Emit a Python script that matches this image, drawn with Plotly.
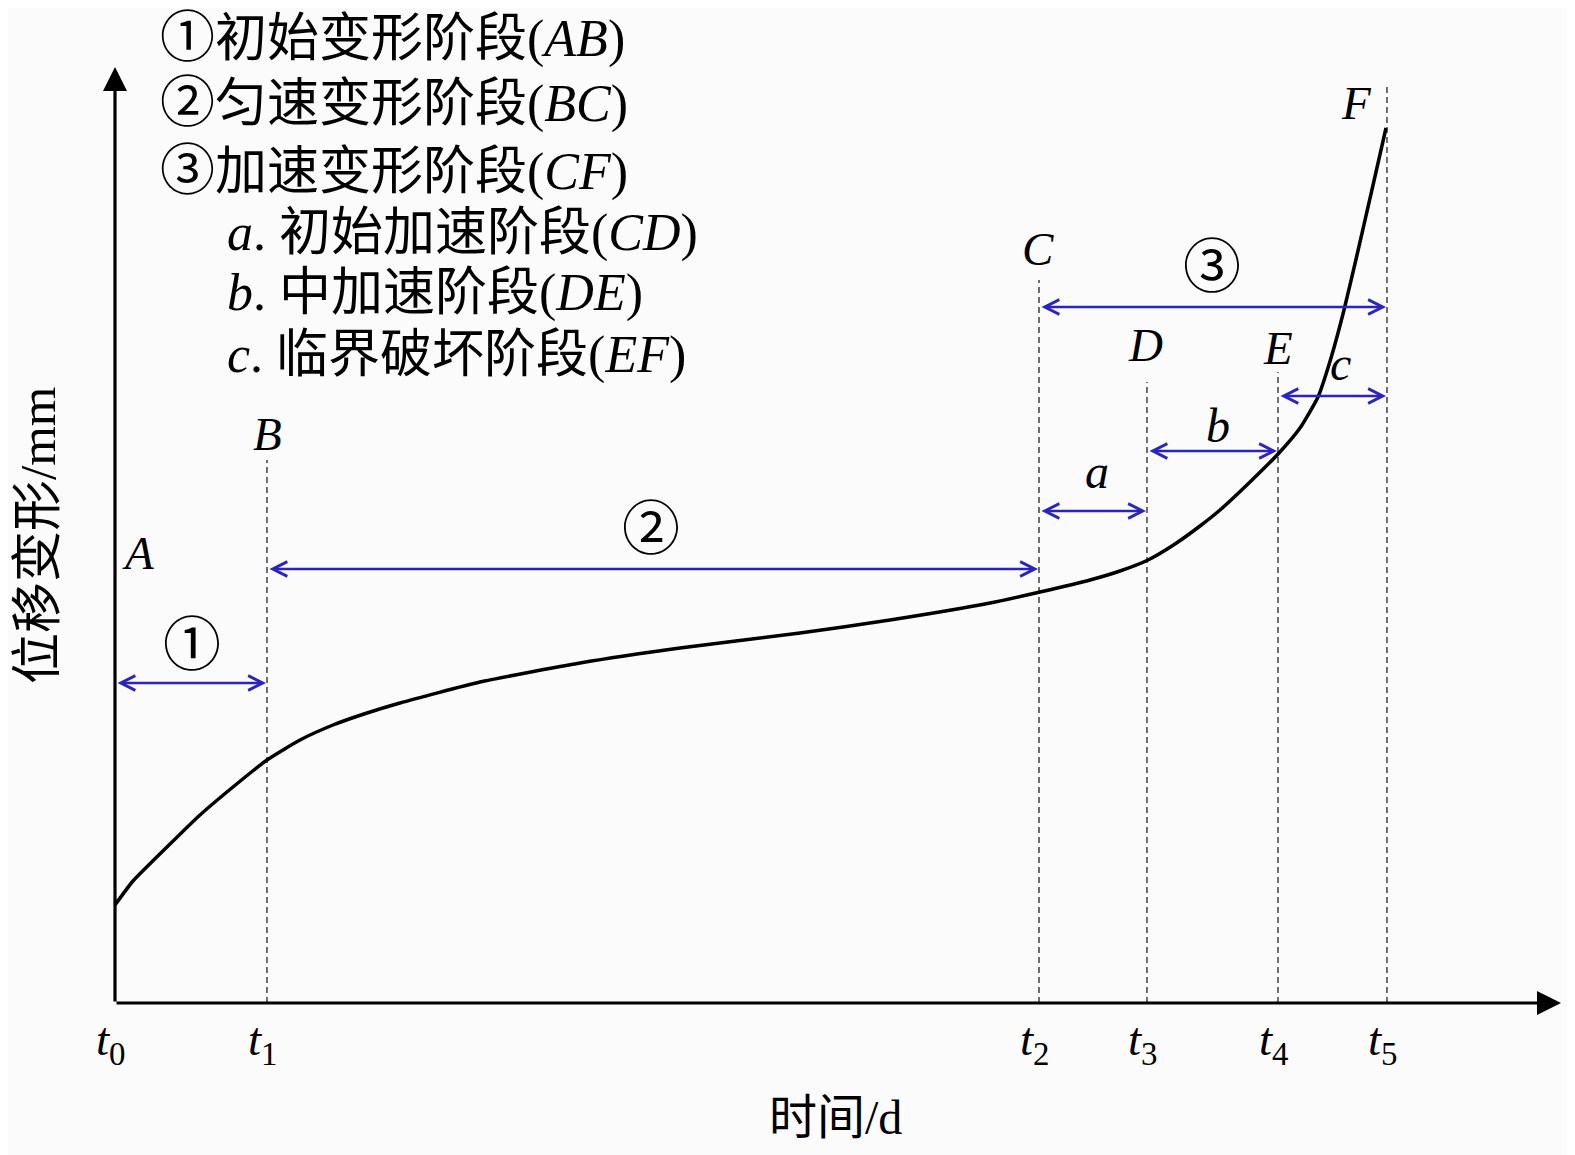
import plotly.graph_objects as go

# ── data (time in d, displacement in mm) ──
curve_t = [0, 1.8, 5.2, 8.5, 11.8, 15.2, 18.5, 21.8, 25.2, 28.5, 36.5, 46.5, 56.5,
           68.5, 77.5, 87.5, 92.5, 97.5, 100.5, 103.3, 106.0, 108.5, 110.5, 113.5,
           116.4, 118.5, 120.3, 121.6, 122.9, 124.2, 125.6, 127.1]
curve_d = [9.8, 12.2, 15.6, 18.8, 21.6, 24.3, 26.3, 27.8, 29.0, 30.0, 32.1, 34.0, 35.5,
           37.0, 38.3, 40.0, 41.1, 42.3, 43.2, 44.3, 45.9, 47.7, 49.3, 52.1,
           55.0, 57.5, 60.6, 64.5, 69.3, 74.8, 80.9, 87.5]

stage_t = [0, 15.2, 92.4, 103.2, 116.3, 127.2]          # t0 .. t5
stage_names = ["A", "B", "C", "D", "E", "F"]
guide_top = [None, 54.3, 72.3, 62.1, 63.1, 91.8]          # top of dashed guides

# spans between stage times, with their heights and labels
span_from = [0, 1, 2, 3, 4, 2]
span_to = [1, 2, 3, 4, 5, 5]
span_y = [32.0, 43.4, 49.2, 55.2, 60.7, 69.6]
span_text = ["①", "②", "<i>a</i>", "<i>b</i>", "<i>c</i>", "③"]

legend_marks = ["①", "②", "③", "<i>a</i>. ", "<i>b</i>. ", "<i>c</i>. "]
legend_lines = [
    "初始变形阶段(<i>AB</i>)",
    "匀速变形阶段(<i>BC</i>)",
    "加速变形阶段(<i>CF</i>)",
    "初始加速阶段(<i>CD</i>)",
    "中加速阶段(<i>DE</i>)",
    "临界破坏阶段(<i>EF</i>)",
]
legend_y = [96.6, 90.1, 83.3, 77.0, 71.0, 64.8]
legend_indent = [0, 0, 0, 1, 1, 1]

# page has an 8 px body margin, ranges are shifted to compensate
X_RANGE = [-10.7, 146.8]
Y_RANGE = [-16.0, 99.5]
BLUE = "#2a22c4"
FONT = "Liberation Serif, Noto Sans CJK SC, serif"

fig = go.Figure()

# dashed guides at t1..t5
gx, gy = [], []
for t, top in zip(stage_t[1:], guide_top[1:]):
    gx += [t, t, None]
    gy += [0, top, None]
fig.add_trace(go.Scatter(x=gx, y=gy, mode="lines",
                         line=dict(color="#222222", width=1.3, dash="6px,4px"),
                         hoverinfo="skip", showlegend=False))

# creep curve
fig.add_trace(go.Scatter(x=curve_t, y=curve_d, mode="lines",
                         line=dict(color="black", width=3.5, shape="spline", smoothing=0.5),
                         hoverinfo="skip", showlegend=False))

ann = []

# axes with arrowheads
ann.append(dict(x=144.6, y=0, ax=0, ay=0, xref="x", yref="y", axref="x", ayref="y",
                showarrow=True, arrowhead=2, arrowsize=1.5, arrowwidth=3.2,
                arrowcolor="black", text=""))
ann.append(dict(x=0, y=93.6, ax=0, ay=0, xref="x", yref="y", axref="x", ayref="y",
                showarrow=True, arrowhead=2, arrowsize=1.5, arrowwidth=3.2,
                arrowcolor="black", text=""))

# double-headed span arrows
for i0, i1, yv in zip(span_from, span_to, span_y):
    ann.append(dict(x=stage_t[i1], y=yv, ax=stage_t[i0], ay=yv,
                    xref="x", yref="y", axref="x", ayref="y",
                    showarrow=True, arrowhead=5, startarrowhead=5, arrowside="end+start",
                    arrowsize=1.2, startarrowsize=1.2, arrowwidth=2.4,
                    arrowcolor=BLUE, standoff=1, startstandoff=1, text=""))

# span labels
span_label_x = [7.7, 53.6, 98.2, 110.3, 122.5, 109.7]
span_label_y = [35.8, 47.4, 53.2, 57.8, 64.0, 73.6]
for xv, yv, s in zip(span_label_x, span_label_y, span_text):
    size = 58 if "<i>" not in s else 48
    ann.append(dict(x=xv, y=yv, xref="x", yref="y", text=s, showarrow=False,
                    font=dict(family=FONT, size=size, color="black")))

# point letters
point_x = [2.3, 15.2, 92.3, 103.0, 116.3, 124.1]
point_y = [45.0, 56.9, 75.4, 65.8, 65.5, 90.0]
for xv, yv, s in zip(point_x, point_y, stage_names):
    ann.append(dict(x=xv, y=yv, xref="x", yref="y", text=f"<i>{s}</i>",
                    showarrow=False, font=dict(family=FONT, size=47, color="black")))

# t tick labels
for k, t in enumerate(stage_t):
    ann.append(dict(x=t - 0.4, y=-3.9, xref="x", yref="y",
                    text=f"<i>t</i><sub>{k}</sub>", showarrow=False,
                    font=dict(family=FONT, size=47, color="black")))

# legend block
for m, s, yv, ind in zip(legend_marks, legend_lines, legend_y, legend_indent):
    if ind:
        text = m + s
        xv = 11.0
    else:
        text = f"<span style='font-size:55px'>{m}</span>" + s
        xv = 4.3
    ann.append(dict(x=xv, y=yv, xref="x", yref="y", text=text,
                    showarrow=False, xanchor="left",
                    font=dict(family=FONT, size=52, color="black")))

# axis titles
ann.append(dict(x=72.0, y=-11.4, xref="x", yref="y", text="时间/d", showarrow=False,
                font=dict(family=FONT, size=48, color="black")))
ann.append(dict(x=-7.7, y=46.8, xref="x", yref="y", text="位移变形/mm", showarrow=False,
                textangle=-90, font=dict(family=FONT, size=51, color="black")))

fig.update_layout(
    width=1575, height=1155,
    margin=dict(l=0, r=0, t=0, b=0),
    paper_bgcolor="#fbfbfb", plot_bgcolor="#fbfbfb",
    xaxis=dict(range=X_RANGE, visible=False, fixedrange=True),
    yaxis=dict(range=Y_RANGE, visible=False, fixedrange=True),
    annotations=ann,
    showlegend=False,
)

fig.write_html("out.html")
